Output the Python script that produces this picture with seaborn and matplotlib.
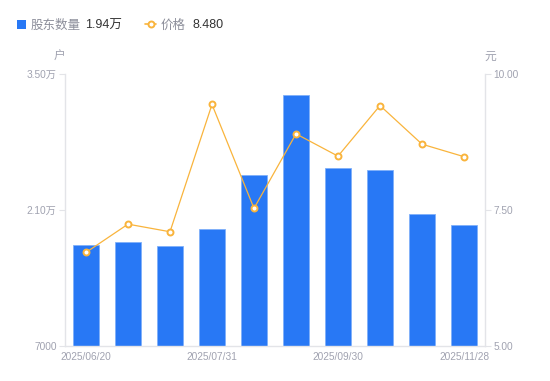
import matplotlib
matplotlib.use("Agg")
import matplotlib.pyplot as plt
import seaborn as sns
import pandas as pd
import numpy as np
from matplotlib.lines import Line2D
from matplotlib.patches import Rectangle

# ---- data ----
dates = ["2025/06/20", "2025/06/30", "2025/07/10", "2025/07/31", "2025/08/20",
         "2025/08/31", "2025/09/30", "2025/10/20", "2025/10/31", "2025/11/28"]
holders = [17400, 17700, 17260, 19040, 24570, 32870, 25290, 25090, 20620, 19420]
prices = [6.72, 7.24, 7.10, 9.44, 7.53, 8.90, 8.49, 9.42, 8.71, 8.48]
left_ticks = [7000, 21000, 35000]
left_labels = ["7000", "2.10万", "3.50万"]
right_ticks = [5.0, 7.5, 10.0]
right_labels = ["5.00", "7.50", "10.00"]
shown_dates = ["2025/06/20", "2025/07/31", "2025/09/30", "2025/11/28"]
legend_bar_name, legend_bar_value = "股东数量", "1.94万"
legend_line_name, legend_line_value = "价格", "8.480"

sns.set_theme(style="white")
plt.rcParams['font.family'] = ['Liberation Sans', 'Noto Sans CJK SC', 'DejaVu Sans']

BLUE = "#2878F5"
ORANGE = "#F9B43C"
GRAY = "#A0A2B0"
AXIS = "#E3E4E8"

df = pd.DataFrame({"date": dates, "holders": holders, "price": prices, "idx": np.arange(len(dates))})

fig = plt.figure(figsize=(5.5, 3.81), dpi=100)
ax = fig.add_axes([65/550, 35/381, 420/550, 272/381])

sns.barplot(data=df, x="idx", y="holders", color=BLUE, width=0.6, saturation=1,
            ax=ax, edgecolor="#7FB0FA", linewidth=0.6)
ax.set_ylim(7000, 35000)
ax.set_xlim(-0.5, len(dates) - 0.5)
ax.set_yticks(left_ticks)
ax.set_yticklabels(left_labels)
pos = [dates.index(d) for d in shown_dates]
ax.set_xticks(pos)
ax.set_xticklabels(shown_dates)
ax.set_xlabel("")
ax.set_ylabel("")

ax2 = ax.twinx()
sns.lineplot(data=df, x="idx", y="price", ax=ax2, color=ORANGE, linewidth=0.9,
             marker="o", markersize=4.3, markerfacecolor="white",
             markeredgecolor=ORANGE, markeredgewidth=1.4)
ax2.set_ylim(5, 10)
ax2.set_yticks(right_ticks)
ax2.set_yticklabels(right_labels)
ax2.set_xlabel("")
ax2.set_ylabel("")
ax2.set_xlim(-0.5, len(dates) - 0.5)

for a in (ax, ax2):
    for s in a.spines.values():
        s.set_visible(False)
    a.grid(False)
ax.spines['left'].set_visible(True)
ax.spines['left'].set_color(AXIS)
ax.spines['bottom'].set_visible(True)
ax.spines['bottom'].set_color(AXIS)
ax2.spines['right'].set_visible(True)
ax2.spines['right'].set_color(AXIS)
for s in ('left', 'bottom'):
    ax.spines[s].set_linewidth(1)
ax2.spines['right'].set_linewidth(1)

ax.tick_params(axis='y', length=4, width=0.8, color=AXIS, labelsize=7.3, labelcolor=GRAY, pad=2, left=True)
ax.tick_params(axis='x', length=0, labelsize=7.3, labelcolor=GRAY, pad=4)
ax2.tick_params(axis='y', length=4, width=0.8, color=AXIS, labelsize=7.3, labelcolor=GRAY, pad=2, right=True)

fig.text(59/550, 1 - 57/381, "户", fontsize=8.5, color=GRAY, ha="center", va="center")
fig.text(490/550, 1 - 57/381, "元", fontsize=8.5, color=GRAY, ha="center", va="center")

# legend
ly = 1 - 24/381
lt = 1 - 25.5/381
fig.patches.append(Rectangle((17/550, ly - 4.5/381), 9/550, 9/381, transform=fig.transFigure,
                             facecolor=BLUE, edgecolor="none"))
fig.text(31/550, lt, legend_bar_name, fontsize=9, color="#8C8E9A", ha="left", va="center")
fig.text(85/550, lt, legend_bar_value, fontsize=9, color="#333333", ha="left", va="center")
fig.lines.append(Line2D([145/550, 156/550], [ly, ly], transform=fig.transFigure, color=ORANGE,
                        linewidth=1.2))
fig.lines.append(Line2D([150.5/550], [ly], transform=fig.transFigure, color=ORANGE, linestyle="none",
                        marker="o", markersize=4.3, markerfacecolor="white", markeredgewidth=1.4))
fig.text(161/550, lt, legend_line_name, fontsize=9, color="#8C8E9A", ha="left", va="center")
fig.text(192/550, lt, legend_line_value, fontsize=9, color="#333333", ha="left", va="center")

fig.savefig("out.png", dpi=100)
